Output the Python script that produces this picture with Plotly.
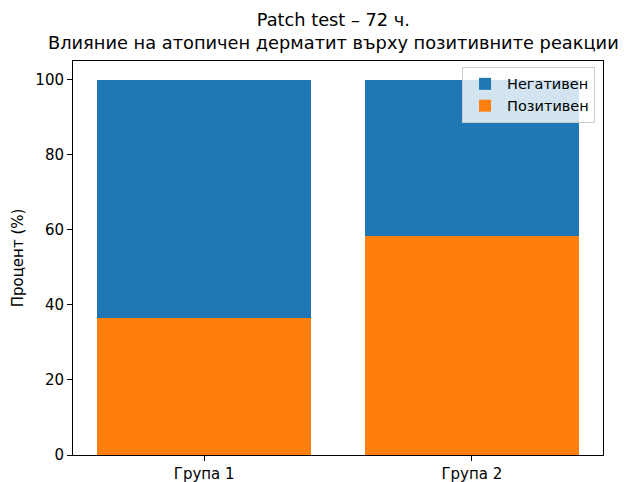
import plotly.graph_objects as go

groups = ["Група 1", "Група 2"]
positive = [36.4, 58.3]
negative = [100 - p for p in positive]
series_names = ["Негативен", "Позитивен"]
title_lines = ["Patch test – 72 ч.", "Влияние на атопичен дерматит върху позитивните реакции"]
y_label = "Процент (%)"

x = [0, 1]
fig = go.Figure()
fig.add_trace(go.Bar(x=x, y=positive, name=series_names[1], marker_color="#ff7f0e",
                     marker_line_width=0, width=0.8, legendrank=2))
fig.add_trace(go.Bar(x=x, y=negative, name=series_names[0], marker_color="#1f77b4",
                     marker_line_width=0, width=0.8, legendrank=1))

fig.update_layout(
    barmode="stack",
    width=624, height=482,
    margin=dict(l=73, r=21, t=61, b=27, autoexpand=False),
    paper_bgcolor="white", plot_bgcolor="white",
    font=dict(family="DejaVu Sans", size=15, color="black"),
    showlegend=True,
    legend=dict(x=0.985, y=0.985, xanchor="right", yanchor="top",
                bgcolor="rgba(255,255,255,0.8)", bordercolor="#cccccc", borderwidth=1,
                font=dict(size=14.5), traceorder="normal", tracegroupgap=0, itemwidth=34),
    bargap=0,
)
fig.add_annotation(text="<br>".join(title_lines), xref="paper", yref="paper",
                   x=0.4906, y=1.0, yshift=6, xanchor="center", yanchor="bottom",
                   showarrow=False, font=dict(size=17.8, family="DejaVu Sans"))
fig.update_xaxes(range=[-0.49, 1.49], tickvals=x, ticktext=groups, automargin=False,
                 showline=True, linecolor="black", linewidth=1, mirror=True,
                 ticks="outside", ticklen=5, tickcolor="black", showgrid=False, zeroline=False)
fig.update_yaxes(range=[0, 105], tickvals=[0, 20, 40, 60, 80, 100], automargin=False,
                 showline=True, linecolor="black", linewidth=1, mirror=True,
                 ticks="outside", ticklen=5, tickcolor="black", showgrid=False, zeroline=False,
                 title=dict(text=y_label, font=dict(size=15), standoff=8))
fig.write_html("out.html", config={"displayModeBar": False},
               post_script="document.body.style.margin='0';document.body.style.padding='0';")
